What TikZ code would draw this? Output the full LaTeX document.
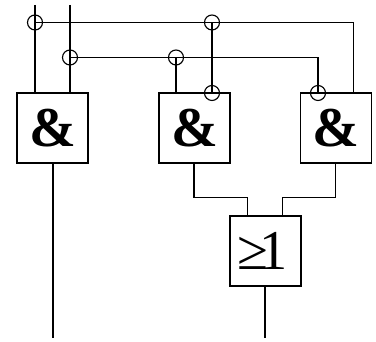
\documentclass[tikz,border=0pt]{standalone}
\usepackage{fontspec}
\setmainfont{Liberation Serif}
\tikzset{
  gate/.style={draw,line width=0.48pt,minimum width=7.1mm,minimum height=7.05mm,inner sep=0pt,fill=white},
  contact/.style={draw,circle,line width=0.32pt,minimum size=1.5mm,inner sep=0pt},
  heavy/.style={line width=0.48pt},
  thin wire/.style={line width=0.34pt}
}
\begin{document}
\begin{tikzpicture}[line cap=butt,line join=miter,x=10mm,y=10mm]
      \useasboundingbox (0,0) rectangle (3.76,3.42);
      % gates
      \node[gate,font=\fontsize{16}{16}\selectfont\bfseries] (and1) at (0.525,2.14) {\&};
      \node[gate,font=\fontsize{16}{16}\selectfont\bfseries] (and2) at (1.945,2.14) {\&};
      \node[gate,font=\fontsize{16}{16}\selectfont\bfseries] (and3) at (3.36,2.14) {\&};
      \node[gate,font=\fontsize{16}{16}\selectfont] (or1) at (2.655,0.91) {≥\kern-2.6pt 1\kern1.7pt};
      % contacts
      \node[contact] (c1) at (0.35,3.195) {};
      \node[contact] (c2) at (0.70,2.845) {};
      \node[contact] (c3) at (1.76,2.845) {};
      \node[contact] (c4) at (2.12,3.195) {};
      \node[contact] (c5) at (2.12,2.49) {};
      \node[contact] (c6) at (3.18,2.49) {};
      % free ends
      \coordinate (a) at (0.35,3.37);
      \coordinate (b) at (0.70,3.37);
      \coordinate (q1) at (0.53,0.04);
      \coordinate (q2) at (2.65,0.04);
      % inputs
      \draw [heavy] (a)-- (and1.north -| a);
      \draw [heavy] (b)-- (and1.north -| b);
      \draw [heavy] (c3.center)-- (and2.north -| c3);
      \draw [heavy] (c4.center)-- (c5.center);
      \draw [thin wire] (c1.center)-- (3.537,3.195)-- (and3.north -| 3.537,0);
      \draw [thin wire] (c2.center)-- (c2 -| c6)-- (c6.center);
      % outputs
      \draw [heavy] (and1.south -| q1)-- (q1);
      \draw [thin wire] (and2.south -| 1.94,0)-- (1.94,1.443)-- (2.477,1.443)-- (or1.north -| 2.477,0);
      \draw [thin wire] (and3.south -| 3.357,0)-- (3.357,1.443)-- (2.827,1.443)-- (or1.north -| 2.827,0);
      \draw [heavy] (or1.south -| q2)-- (q2);
\end{tikzpicture}
\end{document}
